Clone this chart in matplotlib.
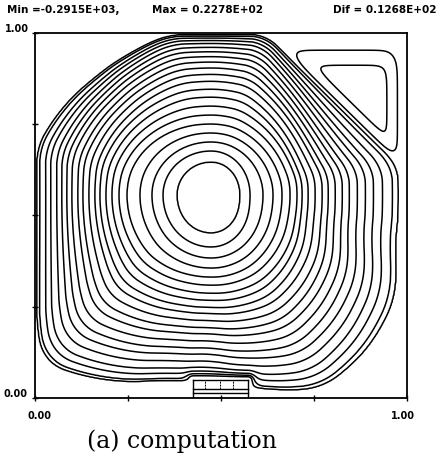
import numpy as np
import matplotlib
matplotlib.use('Agg')
import matplotlib.pyplot as plt

# header values
psi_min = -0.2915E+03
psi_max = 0.2278E+02
psi_dif = 0.1268E+02

# plot box in pixels (width, height) and main vortex centre
box_w, box_h = 372.0, 365.0
centre = [176.0, 203.0]

# ring distances (px) from the vortex centre
ring_left = [34, 48, 59, 71, 84, 92, 99, 105, 111, 116, 122, 128, 133, 139, 144, 149, 154, 160, 165, 171, 174]
ring_right = [29, 39, 52, 62, 71, 79, 86, 91, 97, 104, 111, 117, 124, 131, 138, 146, 154, 162, 171, 181, 187]
ring_down = [38, 52, 63, 73, 82, 90, 98, 105, 112, 118, 125, 132, 138, 145, 152, 158, 165, 172, 177, 182, 184]
ring_up = [33, 44, 53, 62, 71, 80, 89, 98, 106, 114, 121, 127.5, 133.5, 139, 144, 148.5, 152.5, 155.5, 158, 160, 161.5]

# outermost ring distance (px) every 15 deg
outer_angle = list(range(0, 360, 15))
outer_r = [187, 190, 200, 200, 200, 200, 161.5, 165, 163, 165, 172, 180,
           174, 180, 201, 236, 213, 191, 184, 200, 222, 219, 211, 190]
sep_sum = 1.615      # dividing streamline x + y = const

# secondary vortex: dividing line, right wall, top wall (offset, width)
sec_diag = [0.027, 0.018]
sec_right = [0.036, 0.022]
sec_top = [0.062, 0.032]

# heated block on the bottom wall
block_x = [0.425, 0.457, 0.497, 0.532, 0.573]
block_y = [0.0, 0.014, 0.025, 0.049]

n = 401
X, Y = np.meshgrid(np.linspace(0, 1, n), np.linspace(0, 1, n))
P = X * box_w - centre[0]
Q = Y * box_h - centre[1]
r = np.hypot(P, Q)
th = np.arctan2(Q, P)
c, s = np.cos(th), np.sin(th)


def wall_dist(t):
    ct, st = np.cos(t), np.sin(t)
    with np.errstate(divide='ignore', invalid='ignore'):
        dxw = np.where(ct > 1e-9, (box_w - centre[0]) / ct, np.where(ct < -1e-9, -centre[0] / ct, np.inf))
        dyw = np.where(st > 1e-9, (box_h - centre[1]) / st, np.where(st < -1e-9, -centre[1] / st, np.inf))
        g = ct / box_w + st / box_h
        dsep = np.where(g > 0, (sep_sum - centre[0]/box_w - centre[1]/box_h) / g, np.inf)
    return np.minimum(dxw, dyw), dsep


# outer radius vs angle, limited by walls and dividing line, then smoothed
tf = np.radians(np.arange(-180, 180.5, 0.5))
Rf = np.interp(np.degrees(tf) % 360, outer_angle + [360], outer_r + [outer_r[0]])
wf, sf = wall_dist(tf)
Rf = np.minimum(np.minimum(Rf, 0.99 * wf), sf)
k = 10
Rf = np.convolve(np.r_[Rf[-k-1:-1], Rf, Rf[1:k+1]], np.ones(2*k + 1) / (2*k + 1), mode='valid')
Rf = np.minimum(Rf, 0.99 * wf)
R = np.interp(th, tf, Rf)

# ring radii in every direction
wr = np.maximum(c, 0)**2
wl = np.maximum(-c, 0)**2
wu = np.maximum(s, 0)**2
wd = np.maximum(-s, 0)**2
rings = (wr[None] * np.array(ring_right, float)[:, None, None]
         + wl[None] * np.array(ring_left, float)[:, None, None]
         + wu[None] * np.array(ring_up, float)[:, None, None]
         + wd[None] * np.array(ring_down, float)[:, None, None])
nr = rings.shape[0]
xk = np.arange(nr) / (nr - 1)
kk = (xk**2 * (3 - 2 * xk))[:, None, None]
rings = rings * (R / rings[-1])[None]**kk
rings = np.maximum.accumulate(rings, axis=0) + np.arange(nr)[:, None, None] * 1e-3

levels = psi_min + psi_dif * (np.arange(25) + 0.5)
main_levels = levels[:nr]
sec_levels = levels[levels > 0]

idx = (r[None] >= rings).sum(0)
psi = np.zeros_like(r)
inner = idx == 0
psi[inner] = psi_min + (main_levels[0] - psi_min) * (r[inner] / rings[0][inner])**2
mid = (idx > 0) & (idx < nr)
i1 = np.clip(idx, 1, nr - 1)
lo = np.take_along_axis(rings, (i1 - 1)[None], 0)[0]
hi = np.take_along_axis(rings, i1[None], 0)[0]
frac = (r - lo) / (hi - lo)
psi[mid] = (main_levels[i1 - 1] + frac * (main_levels[i1] - main_levels[i1 - 1]))[mid]
outer = idx == nr
psi[outer] = (main_levels[-1] * np.clip(1 - (r / rings[-1] - 1) / 0.01, 0, 1))[outer]

# zero on the block
bx = np.maximum(np.maximum(block_x[0] - X, X - block_x[-1]), 0) * box_w
by = np.maximum(Y - block_y[-1], 0) * box_h
psi = psi * np.tanh(np.hypot(bx, by) / 6.0)

# secondary vortex in the top right corner
dp = (X + Y - 1.60) / np.sqrt(2)
fd = 0.5 * (1 + np.tanh((dp - sec_diag[0]) / sec_diag[1]))
fr = 0.5 * (1 + np.tanh(((1 - X) - sec_right[0]) / sec_right[1]))
ft = 0.5 * (1 + np.tanh(((1 - Y) - sec_top[0]) / sec_top[1]))
G = fd * fr * ft
psi = psi + G * psi_max / G.max()

fig = plt.figure(figsize=(4.47, 4.61), dpi=100)
ax = fig.add_axes([35/447, 63/461, 372/447, 365/461])
ax.contour(X, Y, psi, levels=list(main_levels) + list(sec_levels), colors='k',
           linewidths=1.1, linestyles='solid')

# block grid
for bxl in block_x[1:-1]:
    ax.plot([bxl, bxl], [block_y[2], block_y[-1]], color='k', lw=0.7, ls=(0, (2, 1)))
for byl in block_y:
    ax.plot([block_x[0], block_x[-1]], [byl, byl], color='k', lw=1.0)
for bxl in [block_x[0], block_x[-1]]:
    ax.plot([bxl, bxl], [0, block_y[-1]], color='k', lw=1.0)

ax.set_xlim(0, 1)
ax.set_ylim(0, 1)
ax.set_xticks([0, 0.25, 0.5, 0.75, 1])
ax.set_yticks([0, 0.25, 0.5, 0.75, 1])
ax.set_xticklabels([])
ax.set_yticklabels([])
ax.tick_params(direction='inout', length=5, width=1)
for sp in ax.spines.values():
    sp.set_linewidth(1.3)

tfont = dict(family='DejaVu Sans', fontsize=7.5, fontweight='bold')
ty = 1 - 10/461
fig.text(7/447, ty, 'Min =-0.2915E+03,', va='center', ha='left', **tfont)
fig.text(152/447, ty, 'Max = 0.2278E+02', va='center', ha='left', **tfont)
fig.text(333/447, ty, 'Dif = 0.1268E+02', va='center', ha='left', **tfont)

lfont = dict(family='DejaVu Sans', fontsize=7, fontweight='bold')
fig.text(5/447, 1 - 29/461, '1.00', va='center', ha='left', **lfont)
fig.text(3/447, 1 - 394/461, '0.00', va='center', ha='left', **lfont)
fig.text(40/447, 1 - 416/461, '0.00', va='center', ha='center', **lfont)
fig.text(403/447, 1 - 416/461, '1.00', va='center', ha='center', **lfont)

fig.text(182/447, 1 - 441/461, '(a) computation', va='center', ha='center',
         family='DejaVu Serif', fontsize=17)

fig.savefig('out.png', dpi=100)
